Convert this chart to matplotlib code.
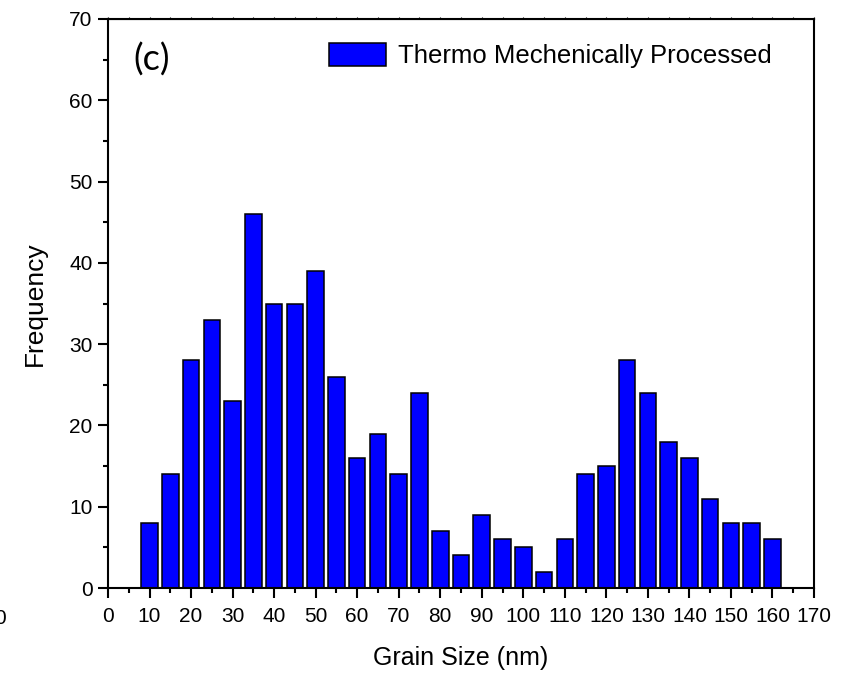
import matplotlib
matplotlib.use("Agg")
import matplotlib.pyplot as plt
from matplotlib.ticker import MultipleLocator

# grain size bins (nm) and counts
grain_size = [10, 15, 20, 25, 30, 35, 40, 45, 50, 55, 60, 65, 70, 75, 80, 85,
              90, 95, 100, 105, 110, 115, 120, 125, 130, 135, 140, 145, 150, 155, 160]
frequency = [8, 14, 28, 33, 23, 46, 35, 35, 39, 26, 16, 19, 14, 24, 7, 4,
             9, 6, 5, 2, 6, 14, 15, 28, 24, 18, 16, 11, 8, 8, 6]
x_ticks = list(range(0, 171, 10))
y_ticks = list(range(0, 71, 10))

plt.rcParams['font.family'] = ['Liberation Sans', 'DejaVu Sans']

fig = plt.figure(figsize=(8.45, 6.73), dpi=100)
ax = fig.add_axes([108 / 845, 85 / 673, (814 - 108) / 845, (588 - 19) / 673])

ax.bar(grain_size, frequency, width=4, color='#0000FF', edgecolor='black',
       linewidth=1.1, label='Thermo Mechenically Processed')

ax.set_xlim(0, 170)
ax.set_ylim(0, 70)
ax.set_xticks(x_ticks)
ax.set_yticks(y_ticks)
ax.xaxis.set_minor_locator(MultipleLocator(5))
ax.yaxis.set_minor_locator(MultipleLocator(5))

for s in ax.spines.values():
    s.set_linewidth(1.5)

ax.tick_params(axis='both', which='major', direction='out', length=7, width=1.5,
               labelsize=15)
ax.tick_params(axis='x', which='major', pad=7)
ax.tick_params(axis='y', which='major', pad=4)
ax.tick_params(axis='both', which='minor', direction='out', length=3.5, width=1.5)
# tiny ticks on the top spine
secx = ax.secondary_xaxis('top')
secx.set_xticks(list(range(0, 171, 5)))
secx.tick_params(length=1.5, width=0.8, labeltop=False)

ax.set_xlabel('Grain Size (nm)', fontsize=18, labelpad=14)
ax.set_ylabel('Frequency', fontsize=19, labelpad=16)

ax.text(0.062, 0.958, '(c)', transform=ax.transAxes, fontsize=26,
        family=['Lato', 'DejaVu Sans'], va='top', ha='center')

ax.legend(loc='upper right', frameon=False, fontsize=18.5, handlelength=2.2,
          handleheight=1.0, handletextpad=0.45, borderaxespad=0.3,
          bbox_to_anchor=(0.965, 0.99))

# stray clipped tick label at the left border of the original image
fig.text(0.0, 1 - 618 / 673, '0', fontsize=15, ha='center', va='center')

fig.savefig('out.png', dpi=100)
